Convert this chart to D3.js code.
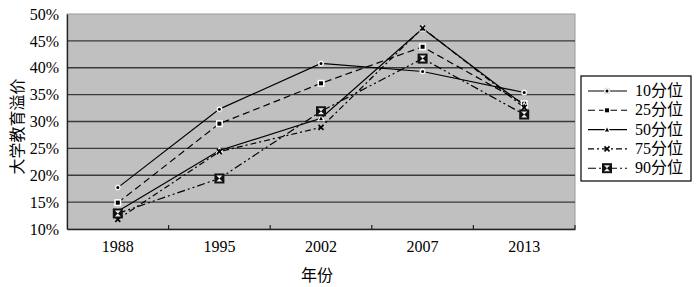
<!DOCTYPE html>
<html>
<head>
<meta charset="utf-8">
<script src="https://cdn.jsdelivr.net/npm/d3@7"></script>
<style>
  body { margin: 0; background: #fff; }
  svg text { font-family: "Liberation Serif", "Noto Sans CJK SC", serif; fill: #000; }
</style>
</head>
<body>
<svg id="chart" width="700" height="287"></svg>
<script>
// data
var years = ['1988', '1995', '2002', '2007', '2013'];
var p10 = [17.7, 32.3, 40.8, 39.3, 35.4];
var p25 = [14.9, 29.6, 37.1, 43.9, 33.3];
var p50 = [13.3, 24.6, 30.6, 47.3, 33.0];
var p75 = [11.8, 24.4, 28.9, 47.4, 32.6];
var p90 = [12.9, 19.4, 31.9, 41.7, 31.3];
var seriesNames = ['10分位', '25分位', '50分位', '75分位', '90分位'];
var yTicks = [10, 15, 20, 25, 30, 35, 40, 45, 50];

var allSeries = [p10, p25, p50, p75, p90];
var dashes = ['none', '7,4', 'none', '6,3,2,3', '8,3,2,3,2,3'];
var markers = ['dot', 'square', 'triangle', 'cross', 'box'];

var svg = d3.select('#chart');
var plotLeft = 67, plotRight = 575, plotTop = 14, plotBottom = 229;

var x = d3.scaleBand().domain(years).range([plotLeft, plotRight]).padding(0);
var y = d3.scaleLinear().domain([10, 50]).range([plotBottom, plotTop]);

// plot background
svg.append('rect')
  .attr('x', plotLeft).attr('y', plotTop)
  .attr('width', plotRight - plotLeft).attr('height', plotBottom - plotTop)
  .attr('fill', '#c0c0c0')
  .attr('stroke', '#9a9a9a')
  .attr('stroke-width', 1);

// gridlines
svg.append('g')
  .selectAll('line')
  .data(yTicks.filter(function(d){ return d > 10 && d < 50; }))
  .enter().append('line')
  .attr('x1', plotLeft).attr('x2', plotRight)
  .attr('y1', function(d){ return y(d); })
  .attr('y2', function(d){ return y(d); })
  .attr('stroke', '#3a3a3a')
  .attr('stroke-width', 1.3);

// y axis
var yAxis = d3.axisLeft(y)
  .tickValues(yTicks)
  .tickSize(0)
  .tickPadding(8)
  .tickFormat(function(d){ return d + '%'; });

var gy = svg.append('g')
  .attr('transform', 'translate(' + plotLeft + ',0)')
  .call(yAxis);
gy.attr('font-family', null).attr('font-size', null);
gy.select('.domain').attr('stroke', '#222').attr('stroke-width', 1.3);
gy.selectAll('text').style('font-size', '16px');

// x axis
var xAxis = d3.axisBottom(x).tickSize(0).tickPadding(12);
var gx = svg.append('g')
  .attr('transform', 'translate(0,' + plotBottom + ')')
  .call(xAxis);
gx.attr('font-family', null).attr('font-size', null);
gx.select('.domain').attr('stroke', '#222').attr('stroke-width', 1.5);
gx.selectAll('text').style('font-size', '16px');

// tick marks between categories
svg.append('g')
  .selectAll('line')
  .data(years.slice(1).concat(['end']))
  .enter().append('line')
  .attr('x1', function(d){ return d === 'end' ? plotRight : x(d); })
  .attr('x2', function(d){ return d === 'end' ? plotRight : x(d); })
  .attr('y1', plotBottom - 4).attr('y2', plotBottom)
  .attr('stroke', '#222').attr('stroke-width', 1.2);

// axis titles
svg.append('text')
  .attr('x', (plotLeft + plotRight) / 2 - 4).attr('y', 281)
  .attr('text-anchor', 'middle')
  .style('font-family', '"Noto Sans CJK SC", sans-serif')
  .style('font-size', '16px')
  .text('年份');

svg.append('text')
  .attr('transform', 'translate(23,' + ((plotTop + plotBottom) / 2 + 5) + ') rotate(-90)')
  .attr('text-anchor', 'middle')
  .style('font-family', '"Noto Sans CJK SC", sans-serif')
  .style('font-size', '16px')
  .text('大学教育溢价');

function cx(i){ return x(years[i]) + x.bandwidth() / 2; }

function drawMarker(g, type, px, py){
  if (type === 'dot') {
    g.append('circle').attr('cx', px).attr('cy', py).attr('r', 3)
      .attr('fill', '#fff').attr('stroke', '#bbb').attr('stroke-width', 0.5);
    g.append('circle').attr('cx', px).attr('cy', py).attr('r', 1.5).attr('fill', '#000');
  } else if (type === 'square') {
    g.append('rect').attr('x', px - 3.5).attr('y', py - 3.5).attr('width', 7).attr('height', 7)
      .attr('fill', '#fff');
    g.append('rect').attr('x', px - 2).attr('y', py - 2).attr('width', 4).attr('height', 4)
      .attr('fill', '#000');
  } else if (type === 'triangle') {
    g.append('path')
      .attr('d', 'M' + px + ',' + (py - 4) + 'L' + (px + 4) + ',' + (py + 3) + 'L' + (px - 4) + ',' + (py + 3) + 'Z')
      .attr('fill', '#fff');
    g.append('path')
      .attr('d', 'M' + px + ',' + (py - 2) + 'L' + (px + 2) + ',' + (py + 2) + 'L' + (px - 2) + ',' + (py + 2) + 'Z')
      .attr('fill', '#000');
  } else if (type === 'cross') {
    g.append('path')
      .attr('d', 'M' + (px - 2.5) + ',' + (py - 2.5) + 'L' + (px + 2.5) + ',' + (py + 2.5) +
                 'M' + (px + 2.5) + ',' + (py - 2.5) + 'L' + (px - 2.5) + ',' + (py + 2.5))
      .attr('stroke', '#000').attr('stroke-width', 1.6);
  } else if (type === 'box') {
    g.append('rect').attr('x', px - 5).attr('y', py - 5).attr('width', 10).attr('height', 10)
      .attr('fill', '#111');
    g.append('path')
      .attr('d', 'M' + (px - 3) + ',' + (py - 3) + 'L' + (px + 3) + ',' + (py - 3) + 'L' + (px - 3) + ',' + (py + 3) +
                 'L' + (px + 3) + ',' + (py + 3) + 'Z')
      .attr('fill', '#eee');
  }
}

// series lines
var line = d3.line()
  .x(function(d, i){ return cx(i); })
  .y(function(d){ return y(d); });

allSeries.forEach(function(vals, s){
  svg.append('path')
    .datum(vals)
    .attr('d', line)
    .attr('fill', 'none')
    .attr('stroke', '#000')
    .attr('stroke-width', 1.2)
    .attr('stroke-dasharray', dashes[s]);
});

allSeries.forEach(function(vals, s){
  var g = svg.append('g');
  vals.forEach(function(v, i){ drawMarker(g, markers[s], cx(i), y(v)); });
});

// legend
var legend = svg.append('g');
legend.append('rect')
  .attr('x', 581).attr('y', 76).attr('width', 110).attr('height', 105)
  .attr('fill', '#fff').attr('stroke', '#000').attr('stroke-width', 1.2);

seriesNames.forEach(function(name, s){
  var ly = 91 + s * 19.3;
  legend.append('line')
    .attr('x1', 588).attr('x2', 627).attr('y1', ly).attr('y2', ly)
    .attr('stroke', '#000').attr('stroke-width', 1.1)
    .attr('stroke-dasharray', dashes[s]);
  drawMarker(legend, markers[s], 607, ly);
  legend.append('text')
    .attr('x', 635).attr('y', ly + 5)
    .style('font-size', '16px')
    .text(name);
});
</script>
</body>
</html>
